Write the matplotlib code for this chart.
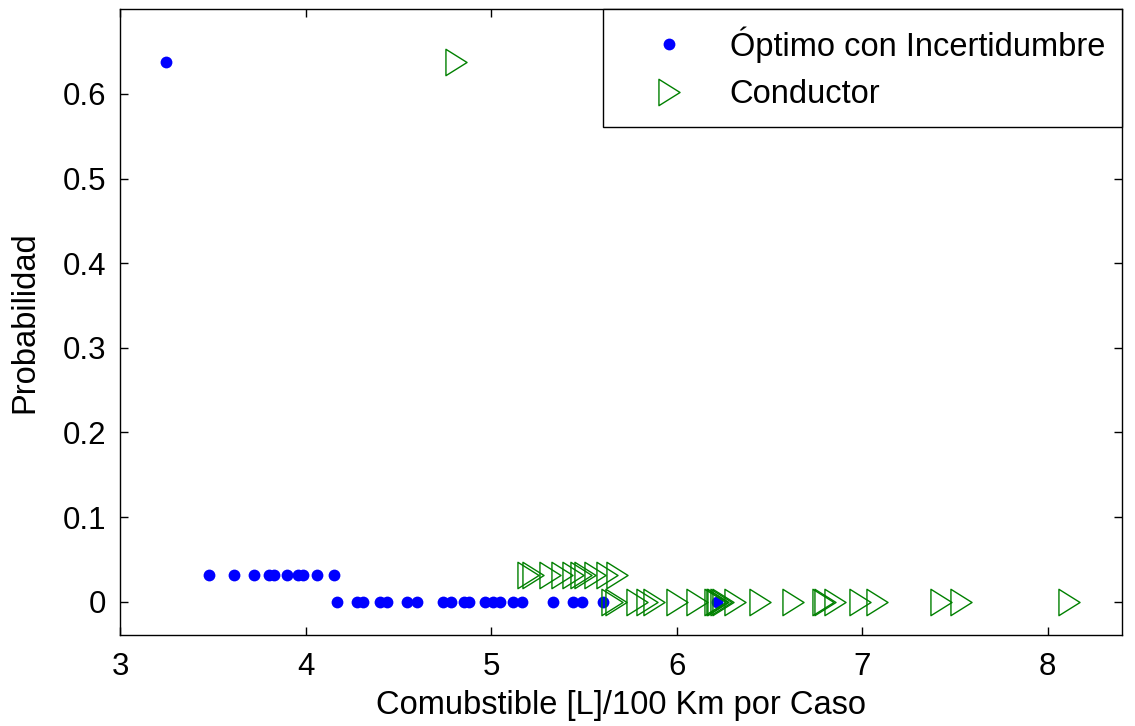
import matplotlib
matplotlib.use("Agg")
import matplotlib.pyplot as plt
from matplotlib.path import Path

plt.rcParams["font.family"] = ["Liberation Sans", "DejaVu Sans"]

# ── Data ─────────────────────────────────────────────────────────────────────
optimo_x = [3.248,
            3.480, 3.614, 3.722, 3.805, 3.830, 3.900, 3.959, 3.984, 4.061, 4.153,
            4.168, 4.279, 4.311, 4.401, 4.437, 4.548, 4.599, 4.739, 4.782, 4.855,
            4.880, 4.967, 5.008, 5.047, 5.116, 5.164, 5.335, 5.442, 5.491, 5.601,
            6.220]
optimo_y = [0.638] + [0.032] * 10 + [0.0] * 21

conductor_x = [4.810,
               5.201, 5.228, 5.318, 5.381, 5.444, 5.484, 5.507, 5.561, 5.624, 5.678,
               5.651, 5.674, 5.786, 5.839, 5.879, 6.004, 6.112, 6.207, 6.216, 6.225,
               6.238, 6.250, 6.315, 6.450, 6.626, 6.788, 6.800, 6.854, 6.989, 7.082,
               7.423, 7.531, 8.113]
conductor_y = [0.638] + [0.032] * 10 + [0.0] * 23

x_ticks = [3, 4, 5, 6, 7, 8]
y_ticks = [0, 0.1, 0.2, 0.3, 0.4, 0.5, 0.6]

# MATLAB-like right triangle (taller than wide)
tri_right = Path([(-0.8, -1.0), (0.8, 0.0), (-0.8, 1.0), (-0.8, -1.0)],
                 [Path.MOVETO, Path.LINETO, Path.LINETO, Path.CLOSEPOLY])

TICK_FS = 22.5
LABEL_FS = 23.5

fig = plt.figure(figsize=(11.35, 7.26), dpi=100)
ax = fig.add_axes([0.1057, 0.1247, 0.9885 - 0.1057, 0.9872 - 0.1247])

ax.plot(optimo_x, optimo_y, linestyle="none", marker="o", markersize=8.5,
        color="#0000ff", markeredgewidth=0, label="Óptimo con Incertidumbre")
ax.plot(conductor_x, conductor_y, linestyle="none", marker=tri_right,
        markersize=19, markerfacecolor="none", markeredgecolor="#008000",
        markeredgewidth=1.0, label="Conductor")

ax.set_xlim(3, 8.4)
ax.set_ylim(-0.04, 0.7)
ax.set_xticks(x_ticks)
ax.set_xticklabels([str(v) for v in x_ticks])
ax.set_yticks(y_ticks)
ax.set_yticklabels(["0"] + [f"{v:g}" for v in y_ticks[1:]])
ax.tick_params(direction="in", top=True, right=True, length=6, width=1,
               labelsize=TICK_FS)
ax.tick_params(axis="x", pad=12)
ax.tick_params(axis="y", pad=10)
for spine in ax.spines.values():
    spine.set_color("black")
    spine.set_linewidth(1.0)

ax.set_xlabel("Comubstible [L]/100 Km por Caso", fontsize=LABEL_FS, labelpad=6)
ax.set_ylabel("Probabilidad", fontsize=LABEL_FS, labelpad=16)

leg = ax.legend(loc="upper right", fontsize=LABEL_FS, borderaxespad=0,
                fancybox=False, edgecolor="black", framealpha=1,
                handlelength=3.0, handletextpad=0.35, borderpad=0.52,
                labelspacing=0.5)
leg.get_frame().set_linewidth(1.0)

fig.savefig("out.png", dpi=100)
